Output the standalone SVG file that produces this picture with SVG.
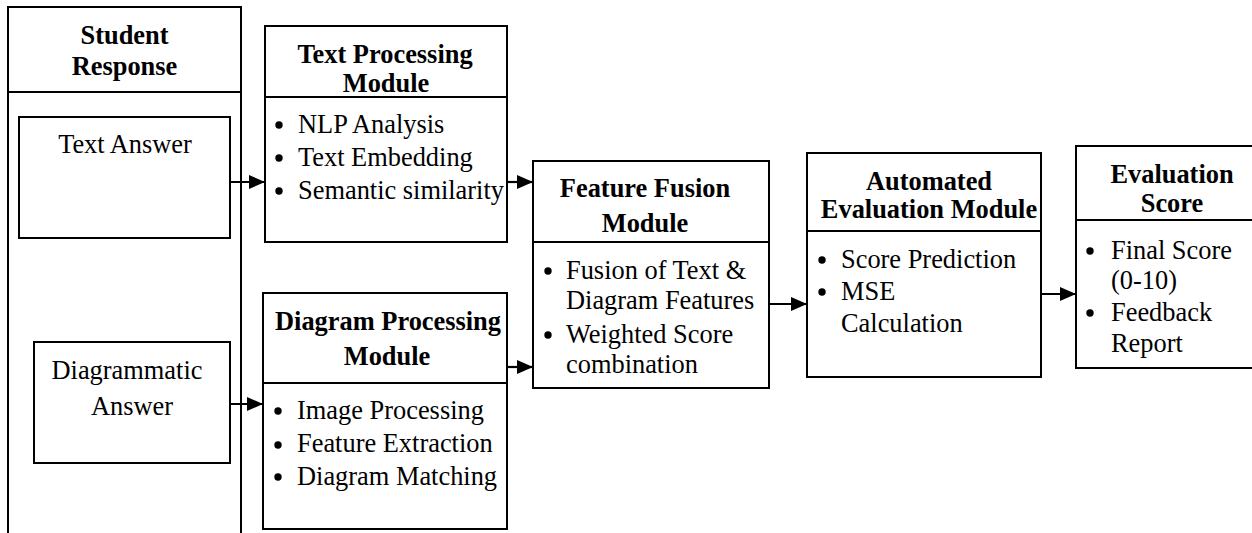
<svg xmlns="http://www.w3.org/2000/svg" width="1252" height="533" viewBox="0 0 1252 533">
  <style>
    .box { fill: #fff; stroke: #000; stroke-width: 2; }
    .ln { fill: none; stroke: #000; stroke-width: 2; }
    .t { font-family: "Liberation Serif", "Times New Roman", serif; font-size: 26.4px; fill: #000; }
    .h { font-family: "Liberation Serif", "Times New Roman", serif; font-size: 26.4px; font-weight: bold; fill: #000; text-anchor: middle; }
    .c { text-anchor: middle; }
    .dot { fill: #000; }
    .arrow { fill: none; stroke: #000; stroke-width: 2.2; marker-end: url(#head); }
  </style>
  <defs>
    <marker id="head" markerUnits="userSpaceOnUse" markerWidth="17" markerHeight="15" refX="16" refY="7" orient="auto">
      <path d="M0,0 L16,7 L0,14 Z" fill="#000"/>
    </marker>
  </defs>
  <rect width="1252" height="533" fill="#fff"/>

  <!-- Student response column (open at the bottom) -->
  <g id="student-response">
    <path class="ln" d="M8,540 V7 H241 V540"/>
    <line class="ln" x1="8" y1="92" x2="241" y2="92"/>
    <text class="h" x="124.5" y="44">Student</text>
    <text class="h" x="124.5" y="75">Response</text>
  </g>

  <g id="text-answer">
    <rect class="box" x="19" y="117" width="211" height="121"/>
    <text class="t c" x="125" y="153">Text Answer</text>
  </g>

  <g id="diagrammatic-answer">
    <rect class="box" x="34" y="342" width="196" height="121"/>
    <text class="t c" x="127" y="379">Diagrammatic</text>
    <text class="t c" x="132" y="415">Answer</text>
  </g>

  <g id="text-processing">
    <rect class="box" x="265" y="26" width="242" height="216"/>
    <line class="ln" x1="265" y1="97" x2="507" y2="97"/>
    <text class="h" x="385" y="63">Text Processing</text>
    <text class="h" x="386" y="92">Module</text>
    <circle class="dot" cx="279" cy="125" r="3.7"/>
    <circle class="dot" cx="279" cy="158" r="3.7"/>
    <circle class="dot" cx="279" cy="191" r="3.7"/>
    <text class="t" x="298" y="133">NLP Analysis</text>
    <text class="t" x="298" y="166">Text Embedding</text>
    <text class="t" x="298" y="199">Semantic similarity</text>
  </g>

  <g id="diagram-processing">
    <rect class="box" x="263" y="293" width="244" height="236"/>
    <line class="ln" x1="263" y1="383" x2="507" y2="383"/>
    <text class="h" x="388" y="330">Diagram Processing</text>
    <text class="h" x="387" y="365">Module</text>
    <circle class="dot" cx="278" cy="411" r="3.7"/>
    <circle class="dot" cx="278" cy="445" r="3.7"/>
    <circle class="dot" cx="278" cy="477" r="3.7"/>
    <text class="t" x="297" y="419">Image Processing</text>
    <text class="t" x="297" y="452">Feature Extraction</text>
    <text class="t" x="297" y="485">Diagram Matching</text>
  </g>

  <g id="feature-fusion">
    <rect class="box" x="533" y="161" width="236" height="227"/>
    <line class="ln" x1="533" y1="242" x2="769" y2="242"/>
    <text class="h" x="645" y="197">Feature Fusion</text>
    <text class="h" x="645" y="232">Module</text>
    <circle class="dot" cx="548" cy="271" r="3.7"/>
    <circle class="dot" cx="548" cy="335" r="3.7"/>
    <text class="t" x="566" y="279">Fusion of Text &amp;</text>
    <text class="t" x="566" y="309">Diagram Features</text>
    <text class="t" x="566" y="343">Weighted Score</text>
    <text class="t" x="566" y="373">combination</text>
  </g>

  <g id="automated-evaluation">
    <rect class="box" x="807" y="153" width="234" height="224"/>
    <line class="ln" x1="807" y1="231" x2="1041" y2="231"/>
    <text class="h" x="929" y="190">Automated</text>
    <text class="h" x="929" y="218">Evaluation Module</text>
    <circle class="dot" cx="822" cy="260" r="3.7"/>
    <circle class="dot" cx="822" cy="292" r="3.7"/>
    <text class="t" x="841" y="268">Score Prediction</text>
    <text class="t" x="841" y="300">MSE</text>
    <text class="t" x="841" y="332">Calculation</text>
  </g>

  <g id="evaluation-score">
    <rect class="box" x="1076" y="146" width="200" height="222"/>
    <line class="ln" x1="1076" y1="220" x2="1276" y2="220"/>
    <text class="h" x="1172" y="183">Evaluation</text>
    <text class="h" x="1172" y="212">Score</text>
    <circle class="dot" cx="1090" cy="251" r="3.7"/>
    <circle class="dot" cx="1090" cy="313" r="3.7"/>
    <text class="t" x="1111" y="259">Final Score</text>
    <text class="t" x="1111" y="289">(0-10)</text>
    <text class="t" x="1111" y="321">Feedback</text>
    <text class="t" x="1111" y="352">Report</text>
  </g>

  <g id="connectors">
    <path class="arrow" d="M230,182 H265"/>
    <path class="arrow" d="M507,182 H533"/>
    <path class="arrow" d="M230,404 H263"/>
    <path class="arrow" d="M507,367 H533"/>
    <path class="arrow" d="M769,304 H807"/>
    <path class="arrow" d="M1041,294 H1076"/>
  </g>
</svg>
